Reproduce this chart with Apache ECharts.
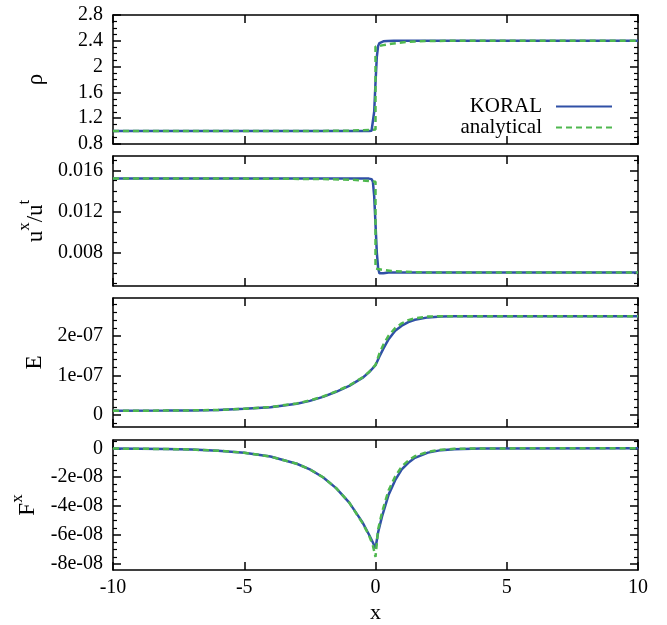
<!DOCTYPE html>
<html><head><meta charset="utf-8">
<script src="https://cdn.jsdelivr.net/npm/echarts@6/dist/echarts.min.js"></script>
<style>html,body{margin:0;padding:0;background:#fff}#c{width:667px;height:625px}</style>
</head><body><div id="c"></div>
<script>
// ---------- data ----------
const xTicks = [-10, -5, 0, 5, 10];
const xTickLabels = ['-10', '-5', '0', '5', '10'];

const rhoTicks = [0.8, 1.2, 1.6, 2.0, 2.4, 2.8];
const rhoTickLabels = ['0.8', '1.2', '1.6', '2', '2.4', '2.8'];
const uTicks = [0.008, 0.012, 0.016];
const uTickLabels = ['0.008', '0.012', '0.016'];
const eTicks = [0, 1e-7, 2e-7];
const eTickLabels = ['0', '1e-07', '2e-07'];
const fTicks = [-8e-8, -6e-8, -4e-8, -2e-8, 0];
const fTickLabels = ['-8e-08', '-6e-08', '-4e-08', '-2e-08', '0'];

const seriesNames = ['KORAL', 'analytical'];

// density
const rhoKoralX = [-10, -5, -1, -0.25, -0.15, -0.1, -0.05, 0, 0.05, 0.1, 0.15, 0.2, 0.3, 0.45, 0.7, 1, 5, 10];
const rhoKoralY = [1.0, 1.0, 1.0, 1.0, 1.005, 1.03, 1.3, 1.75, 2.15, 2.32, 2.365, 2.38, 2.392, 2.398, 2.4, 2.4, 2.4, 2.4];
const rhoAnaX = [-10, -5, -2, -1, -0.5, -0.2, 0, 0, 0.1, 0.3, 0.6, 1, 1.5, 2, 3, 10];
const rhoAnaY = [1.0, 1.0, 1.003, 1.007, 1.013, 1.02, 1.025, 2.31, 2.318, 2.333, 2.355, 2.375, 2.39, 2.397, 2.4, 2.4];

// velocity u^x/u^t
const uKoralX = [-10, -5, -1, -0.25, -0.15, -0.1, -0.05, 0, 0.05, 0.1, 0.15, 0.2, 0.3, 0.5, 1, 5, 10];
const uKoralY = [0.0152, 0.0152, 0.0152, 0.0152, 0.01515, 0.0149, 0.0135, 0.0108, 0.0080, 0.0065, 0.00598, 0.00592, 0.006, 0.00606, 0.00607, 0.00607, 0.00607];
const uAnaX = [-10, -5, -2, -1, -0.5, -0.2, 0, 0, 0.1, 0.3, 0.6, 1, 1.5, 2, 3, 10];
const uAnaY = [0.0152, 0.0152, 0.01516, 0.0151, 0.01502, 0.01495, 0.0149, 0.00645, 0.0064, 0.00632, 0.00622, 0.00615, 0.0061, 0.00607, 0.00607, 0.00607];

// radiation energy density E
const eKoralX = [-10, -8, -7, -6, -5, -4, -3, -2.5, -2, -1.5, -1, -0.5, -0.25, 0, 0.15, 0.3, 0.5, 0.75, 1, 1.25, 1.5, 2, 2.5, 3, 4, 10];
const eKoralY = [1.1e-8, 1.15e-8, 1.2e-8, 1.3e-8, 1.6e-8, 2.0e-8, 2.9e-8, 3.6e-8, 4.6e-8, 5.9e-8, 7.4e-8, 9.4e-8, 10.8e-8, 12.6e-8, 14.8e-8, 16.8e-8, 19.2e-8, 21.3e-8, 22.6e-8, 23.5e-8, 24.1e-8, 24.7e-8, 24.9e-8, 25.0e-8, 25.0e-8, 25.0e-8];
const eAnaX = [-10, -8, -7, -6, -5, -4, -3, -2.5, -2, -1.5, -1, -0.5, -0.25, 0, 0.15, 0.3, 0.5, 0.75, 1, 1.25, 1.5, 2, 2.5, 3, 4, 10];
const eAnaY = [1.1e-8, 1.15e-8, 1.2e-8, 1.3e-8, 1.6e-8, 2.05e-8, 2.95e-8, 3.7e-8, 4.7e-8, 6.0e-8, 7.5e-8, 9.5e-8, 10.9e-8, 12.7e-8, 15.6e-8, 17.8e-8, 20.1e-8, 22.0e-8, 23.2e-8, 24.0e-8, 24.5e-8, 24.9e-8, 25.0e-8, 25.0e-8, 25.0e-8, 25.0e-8];

// radiative flux F^x
const fKoralX = [-10, -8, -7, -6, -5, -4, -3, -2.5, -2, -1.5, -1, -0.5, -0.25, -0.1, 0, 0.1, 0.25, 0.5, 0.75, 1, 1.25, 1.5, 2, 2.5, 3, 4, 10];
const fKoralY = [-0.02e-8, -0.05e-8, -0.09e-8, -0.17e-8, -0.31e-8, -0.57e-8, -1.07e-8, -1.46e-8, -2.0e-8, -2.75e-8, -3.75e-8, -5.1e-8, -5.95e-8, -6.5e-8, -6.9e-8, -5.8e-8, -4.7e-8, -3.2e-8, -2.2e-8, -1.45e-8, -1.0e-8, -0.66e-8, -0.3e-8, -0.13e-8, -0.06e-8, -0.01e-8, 0];
const fAnaX = [-10, -8, -7, -6, -5, -4, -3, -2.5, -2, -1.5, -1, -0.5, -0.25, -0.1, 0, 0.1, 0.25, 0.5, 0.75, 1, 1.25, 1.5, 2, 2.5, 3, 4, 10];
const fAnaY = [-0.02e-8, -0.05e-8, -0.09e-8, -0.17e-8, -0.31e-8, -0.57e-8, -1.07e-8, -1.46e-8, -2.0e-8, -2.75e-8, -3.75e-8, -5.15e-8, -6.0e-8, -6.7e-8, -7.5e-8, -5.6e-8, -4.4e-8, -2.9e-8, -1.95e-8, -1.25e-8, -0.85e-8, -0.55e-8, -0.24e-8, -0.1e-8, -0.04e-8, -0.01e-8, 0];

// ---------- layout / style ----------
const FONT = '"Liberation Serif", "DejaVu Serif", "Times New Roman", serif';
const BLUE = '#3050a6';
const GREEN = '#4fb84f';
const GRID_LEFT = 113, GRID_RIGHT = 29;

const panels = [
  { name: 'ρ', top: 15, height: 129, min: 0.8, max: 2.8, ticks: rhoTicks, labels: rhoTickLabels, minorStep: 0.1,
    k: [rhoKoralX, rhoKoralY], a: [rhoAnaX, rhoAnaY], nameGap: 66 },
  { name: '{b|u}{s|x}{b|/u}{s|t}', top: 156, height: 130, min: 0.00475, max: 0.0174, ticks: uTicks, labels: uTickLabels, minorStep: 0.001,
    k: [uKoralX, uKoralY], a: [uAnaX, uAnaY], nameGap: 63 },
  { name: 'E', top: 298, height: 129, min: -3e-8, max: 2.96e-7, ticks: eTicks, labels: eTickLabels, minorStep: 2e-8,
    k: [eKoralX, eKoralY], a: [eAnaX, eAnaY], nameGap: 66 },
  { name: '{b|F}{s|x}', top: 440, height: 130, min: -8.4e-8, max: 5.7e-9, ticks: fTicks, labels: fTickLabels, minorStep: 0.5e-8,
    k: [fKoralX, fKoralY], a: [fAnaX, fAnaY], nameGap: 66 }
];

function zip(xs, ys) { return xs.map((x, i) => [x, ys[i]]); }
function minorValues(major, step, min, max) {
  const out = [];
  const s = Math.ceil(min / step - 1e-6), e = Math.floor(max / step + 1e-6);
  for (let k = s; k <= e; k++) {
    const v = k * step;
    if (!major.some(m => Math.abs(m - v) < step * 1e-3)) out.push(v);
  }
  return out;
}
function labelFor(ticks, labels, v) {
  const span = Math.abs(ticks[ticks.length - 1] - ticks[0]) || 1;
  for (let i = 0; i < ticks.length; i++) if (Math.abs(ticks[i] - v) < span * 1e-6) return labels[i];
  return '';
}

const grid = [], xAxis = [], yAxis = [], series = [];
const lineCol = '#000';
panels.forEach((p, gi) => {
  grid.push({ left: GRID_LEFT, right: GRID_RIGHT, top: p.top, height: p.height, containLabel: false });
  const last = gi === panels.length - 1;
  const xb = xAxis.length;
  xAxis.push({
    type: 'value', gridIndex: gi, position: 'bottom', min: -10, max: 10,
    axisLine: { show: true, onZero: false, lineStyle: { color: lineCol, width: 1.5 } },
    axisTick: { show: true, inside: true, length: 8, customValues: xTicks, lineStyle: { color: lineCol, width: 1.5 } },
    axisLabel: { show: last, customValues: xTicks, margin: 8, color: '#000', fontFamily: FONT, fontSize: 20,
      formatter: v => labelFor(xTicks, xTickLabels, v) },
    splitLine: { show: false },
    name: last ? 'x' : '', nameLocation: 'middle', nameGap: 32,
    nameTextStyle: { fontFamily: FONT, fontSize: 22, color: '#000' }
  });
  xAxis.push({
    type: 'value', gridIndex: gi, position: 'top', min: -10, max: 10,
    axisLine: { show: true, onZero: false, lineStyle: { color: lineCol, width: 1.5 } },
    axisTick: { show: true, inside: true, length: 8, customValues: xTicks, lineStyle: { color: lineCol, width: 1.5 } },
    axisLabel: { show: false }, splitLine: { show: false }
  });
  const minors = minorValues(p.ticks, p.minorStep, p.min, p.max);
  const yl = yAxis.length;
  yAxis.push({
    type: 'value', gridIndex: gi, position: 'left', min: p.min, max: p.max,
    axisLine: { show: true, onZero: false, lineStyle: { color: lineCol, width: 1.5 } },
    axisTick: { show: true, inside: true, length: 8, customValues: p.ticks, lineStyle: { color: lineCol, width: 1.5 } },
    axisLabel: { show: true, customValues: p.ticks, margin: 10, color: '#000', fontFamily: FONT, fontSize: 20,
      formatter: v => labelFor(p.ticks, p.labels, v) },
    splitLine: { show: false },
    name: p.name, nameLocation: 'middle', nameRotate: 90, nameGap: p.nameGap,
    nameTextStyle: { fontFamily: FONT, fontSize: 23, color: '#000',
      rich: {
        b: { fontFamily: FONT, fontSize: 23, lineHeight: 31, verticalAlign: 'bottom', color: '#000' },
        s: { fontFamily: FONT, fontSize: 17, lineHeight: 16, verticalAlign: 'top', color: '#000' }
      } }
  });
  yAxis.push({
    type: 'value', gridIndex: gi, position: 'left', min: p.min, max: p.max,
    axisLine: { show: false, onZero: false },
    axisTick: { show: true, inside: true, length: 4, customValues: minors, lineStyle: { color: lineCol, width: 1.2 } },
    axisLabel: { show: false }, splitLine: { show: false }
  });
  yAxis.push({
    type: 'value', gridIndex: gi, position: 'right', min: p.min, max: p.max,
    axisLine: { show: true, onZero: false, lineStyle: { color: lineCol, width: 1.5 } },
    axisTick: { show: true, inside: true, length: 8, customValues: p.ticks, lineStyle: { color: lineCol, width: 1.5 } },
    axisLabel: { show: false }, splitLine: { show: false }
  });
  yAxis.push({
    type: 'value', gridIndex: gi, position: 'right', min: p.min, max: p.max,
    axisLine: { show: false, onZero: false },
    axisTick: { show: true, inside: true, length: 4, customValues: minors, lineStyle: { color: lineCol, width: 1.2 } },
    axisLabel: { show: false }, splitLine: { show: false }
  });
  series.push({
    name: seriesNames[0], type: 'line', xAxisIndex: xb, yAxisIndex: yl,
    data: zip(p.k[0], p.k[1]), symbol: 'none', showSymbol: false, smooth: false, z: 3,
    lineStyle: { color: BLUE, width: 2.5 }, itemStyle: { color: BLUE }
  });
  series.push({
    name: seriesNames[1], type: 'line', xAxisIndex: xb, yAxisIndex: yl,
    data: zip(p.a[0], p.a[1]), symbol: 'none', showSymbol: false, smooth: false, z: 4,
    lineStyle: { color: GREEN, width: 2.5, type: [6, 4] }, itemStyle: { color: GREEN }
  });
});

const chart = echarts.init(document.getElementById('c'), null, { renderer: 'canvas' });
chart.setOption({
  backgroundColor: '#fff',
  animation: false,
  grid, xAxis, yAxis, series,
  legend: {
    data: seriesNames, orient: 'vertical', right: 49, top: 91, align: 'right',
    itemWidth: 56, itemHeight: 14, itemGap: 0,
    itemStyle: { opacity: 0 },
    textStyle: { fontFamily: FONT, fontSize: 21, lineHeight: 20, color: '#000', padding: [0, 9, 0, 0] }
  }
});
</script></body></html>
